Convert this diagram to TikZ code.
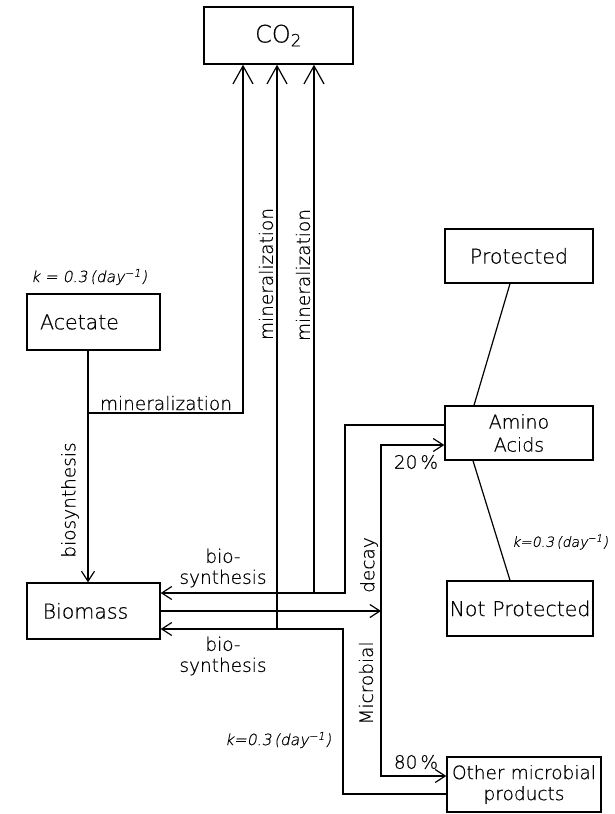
\documentclass[tikz,border=0pt]{standalone}
\usepackage{fontspec}
\IfFontExistsTF{DejaVu Sans ExtraLight}
  {\setmainfont{DejaVu Sans ExtraLight}[FakeBold=0.5, ItalicFont=DejaVu Sans ExtraLight, ItalicFeatures={FakeSlant=0.2,FakeBold=0.5}]}
  {\setmainfont{DejaVu Sans}}
\usetikzlibrary{arrows.meta,calc}
\begin{document}
\begin{tikzpicture}[x=1pt,y=-1pt,line width=1.2pt,
  box/.style={draw,line width=1.4pt,inner sep=0pt,font=\fontsize{20.5pt}{24pt}\selectfont},
  lbl/.style={inner sep=0pt,font=\fontsize{18.5pt}{21pt}\selectfont},
  klbl/.style={inner sep=0pt,font=\fontsize{15.5pt}{17pt}\selectfont\itshape},
  arr/.style={-{Straight Barb[length=10pt,width=13pt]}},
  bigarr/.style={-{Straight Barb[length=18pt,width=20pt]}}]
\useasboundingbox (0,0) rectangle (615,814);
% boxes
\node[box,minimum width=149pt,minimum height=57pt,font=\fontsize{24pt}{28pt}\selectfont] (co2) at (278.5,35.5) {CO\textsubscript{2}};
\node[box,minimum width=133pt,minimum height=56pt,
  label={[box,draw=none,xshift=-14pt]center:Acetate}] (acetate) at (93.5,322) {};
\node[box,minimum width=133pt,minimum height=56pt,
  label={[box,draw=none,xshift=-8pt]center:Biomass}] (biomass) at (93.5,611) {};
\node[box,minimum width=148pt,minimum height=54pt] (protected) at (519,256) {Protected};
\node[box,minimum width=148pt,minimum height=54pt,align=center,
  font=\fontsize{19pt}{23pt}\selectfont] (amino) at (519,433) {Amino\\Acids};
\node[box,minimum width=146pt,minimum height=55pt] (notprot) at (520,608.5) {Not\,\,Protected};
\node[box,minimum width=154pt,minimum height=55pt,align=center,
  font=\fontsize{18.5pt}{21pt}\selectfont] (other) at (524,784.5) {Other\,\,microbial\\products};
% helper coordinates
\coordinate (ax) at (88,0);
\coordinate (mj) at (88,413);
\coordinate (c1) at (243,0);
\coordinate (c2) at (277,0);
\coordinate (c3) at (314,0);
\coordinate (tb) at (345,0);
\coordinate (bb) at (343,0);
\coordinate (dx) at (381,0);
\coordinate (tbtop) at ($(amino.west)+(0,-8)$);
\coordinate (tbend) at ($(biomass.east)+(0,-18)$);
\coordinate (bbstart) at ($(other.west)+(0,9.5)$);
\coordinate (bbend) at ($(biomass.east)+(0,18)$);
\coordinate (dmid) at (biomass.east -| dx);
% connectors
\draw[arr] (acetate.south -| ax) -- (biomass.north -| ax);
\draw[bigarr] (mj) -| (co2.south -| c1);
\draw[arr] (tbtop) -| (tbend -| tb) -- (tbend);
\draw[arr] (bbstart) -| (bbend -| bb) -- (bbend);
\draw[arr] (biomass.east) -- (dmid);
\draw[arr] (dmid) |- ($(amino.west)+(0,12)$);
\draw[arr] (dmid) |- ($(other.west)+(0,-8.5)$);
\draw[bigarr] (bbend -| c2) -- (co2.south -| c2);
\draw[bigarr] (tbend -| c3) -- (co2.south -| c3);
\draw ($(protected.south)+(-9,0)$) -- ($(amino.north)+(-45,0)$);
\draw ($(amino.south)+(-46,0)$) -- ($(notprot.north)+(-10,0)$);
% labels
\node[lbl,anchor=base] (lmin1) at (166,410) {mineralization};
\node[lbl,rotate=90] (lbio1) at (70,500) {biosynthesis};
\node[lbl,rotate=90] (lmin2) at (266,274) {mineralization};
\node[lbl,rotate=90] (lmin3) at (303,275) {mineralization};
\node[lbl,align=center] (lbio2) at (223,568) {bio-\\synthesis};
\node[lbl,align=center] (lbio3) at (223,656) {bio-\\synthesis};
\node[lbl,rotate=90] (ldec) at (369,565) {decay};
\node[lbl,rotate=90] (lmic) at (366,683) {Microbial};
\node[lbl] (l20) at (416,462) {20\,\%};
\node[lbl] (l80) at (416,762) {80\,\%};
\node[klbl] (k1) at (89,277) {k = 0.3\,(day\textsuperscript{−1})};
\node[klbl,font=\fontsize{14pt}{16pt}\selectfont\itshape] (k2) at (560,542) {k=0.3\,(day\textsuperscript{−1})};
\node[klbl] (k3) at (278,740) {k=0.3\,(day\textsuperscript{−1})};
\end{tikzpicture}
\end{document}
